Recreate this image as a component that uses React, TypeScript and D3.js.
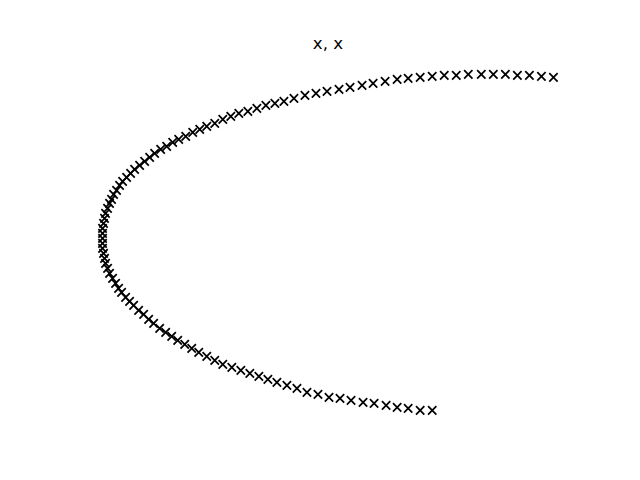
import React, { useEffect, useRef } from 'react';
import * as d3 from 'd3';

// points, ordered from the lower end, round the nose, to the upper end
const xs = [
  32.9, 31.7, 30.5, 29.4, 28.3, 27.1, 26.0, 24.8, 23.7, 22.6, 21.5, 20.4, 19.4, 18.4, 17.4, 16.5,
  15.6, 14.7, 13.8, 12.9, 12.0, 11.2, 10.4, 9.6, 8.9, 8.2, 7.5, 6.9, 6.3, 5.7, 5.1, 4.6,
  4.1, 3.6, 3.1, 2.7, 2.3, 1.9, 1.6, 1.3, 1.0, 0.7, 0.5, 0.3, 0.2, 0.1, 0.0, 0.0,
  0.0, 0.0, 0.0, 0.1, 0.2, 0.3, 0.5, 0.7, 0.9, 1.1, 1.4, 1.7, 2.0, 2.4, 2.8, 3.2,
  3.7, 4.2, 4.7, 5.2, 5.8, 6.4, 7.0, 7.6, 8.3, 9.0, 9.7, 10.4, 11.2, 12.0, 12.8, 13.6,
  14.5, 15.4, 16.3, 17.2, 18.1, 19.1, 20.2, 21.3, 22.4, 23.6, 24.7, 25.9, 27.0, 28.2, 29.4, 30.5,
  31.7, 32.9, 34.1, 35.3, 36.5, 37.8, 39.0, 40.2, 41.4, 42.6, 43.8, 45.0,
];
const ys = [
  0.0, 0.0, 0.2, 0.3, 0.5, 0.7, 0.8, 1.0, 1.2, 1.3, 1.6, 1.8, 2.2, 2.5, 2.8, 3.1,
  3.4, 3.7, 4.0, 4.3, 4.6, 5.0, 5.4, 5.8, 6.2, 6.6, 7.0, 7.4, 7.8, 8.2, 8.7, 9.1,
  9.6, 10.0, 10.5, 10.9, 11.3, 11.8, 12.2, 12.7, 13.2, 13.7, 14.2, 14.7, 15.2, 15.7, 16.2, 16.7,
  17.2, 17.7, 18.2, 18.7, 19.2, 19.7, 20.2, 20.7, 21.1, 21.6, 22.0, 22.5, 22.9, 23.3, 23.7, 24.1,
  24.5, 24.9, 25.3, 25.7, 26.1, 26.4, 26.8, 27.1, 27.4, 27.8, 28.1, 28.4, 28.7, 29.1, 29.4, 29.7,
  29.9, 30.2, 30.5, 30.7, 30.9, 31.2, 31.5, 31.7, 31.9, 32.1, 32.3, 32.5, 32.7, 32.9, 33.1, 33.2,
  33.3, 33.4, 33.5, 33.5, 33.6, 33.6, 33.6, 33.6, 33.5, 33.5, 33.4, 33.3,
];
const title = 'x, x';

const ScatterX: React.FC = () => {
  const svgRef = useRef<SVGSVGElement | null>(null);

  useEffect(() => {
    const svg = d3.select(svgRef.current);
    svg.selectAll('*').remove();

    const width = 640;
    const height = 480;
    // axes box like matplotlib's default subplot
    const left = 80, right = 576, top = 57.6, bottom = 427.2;

    const pad = (ext: [number, number]) => {
      const m = (ext[1] - ext[0]) * 0.05;
      return [ext[0] - m, ext[1] + m];
    };
    const x = d3.scaleLinear().domain(pad(d3.extent(xs) as [number, number])).range([left, right]);
    const y = d3.scaleLinear().domain(pad(d3.extent(ys) as [number, number])).range([bottom, top]);

    svg.attr('width', width).attr('height', height);
    svg.append('rect').attr('width', width).attr('height', height).attr('fill', '#ffffff');

    const s = 4.17; // half size of a 6pt 'x' marker
    const data = xs.map((v, i) => [v, ys[i]]);

    svg
      .append('g')
      .selectAll('path')
      .data(data)
      .enter()
      .append('path')
      .attr('transform', d => `translate(${x(d[0])},${y(d[1])})`)
      .attr('d', `M${-s},${-s}L${s},${s}M${-s},${s}L${s},${-s}`)
      .attr('fill', 'none')
      .attr('stroke', '#000000')
      .attr('stroke-width', 1.75);

    svg
      .append('text')
      .attr('x', (left + right) / 2)
      .attr('y', 49)
      .attr('text-anchor', 'middle')
      .attr('font-family', 'DejaVu Sans')
      .attr('font-size', 16.67)
      .attr('fill', '#000000')
      .text(title);
  }, []);

  return (
    <div style={{ position: 'absolute', left: 0, top: 0, width: 640, height: 480 }}>
      <svg ref={svgRef} style={{ display: 'block' }} />
    </div>
  );
};

export default ScatterX;
